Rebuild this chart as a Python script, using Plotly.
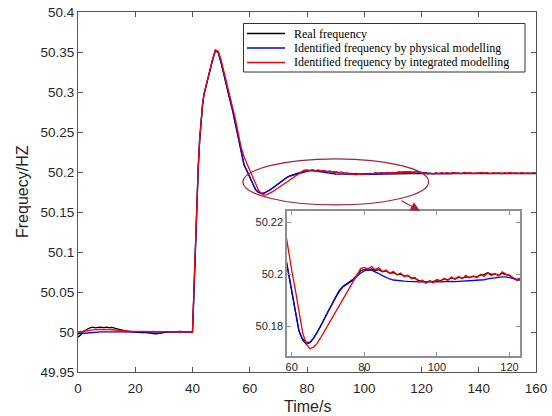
import plotly.graph_objects as go

# ---------------- data ----------------
TIME = [
    0, 1, 2, 3, 4, 5, 6, 7, 8, 9,
    10, 11, 12, 13, 14, 15, 16, 17, 18, 19,
    20, 21, 22, 23, 24, 25, 26, 27, 28, 29,
    30, 31, 32, 33, 34, 35, 36, 37, 38, 39,
    40, 40.5, 41, 41.5, 42, 42.5, 43, 43.5,
    44, 45, 46, 47, 48, 49, 50, 51, 52, 53,
    54, 55, 56, 57, 58, 59, 60, 61, 62, 63,
    64, 65, 66, 67, 68, 69, 70, 71, 72, 73,
    74, 75, 76, 77, 78, 79, 80, 81, 82, 83,
    84, 85, 86, 87, 88, 89, 90, 91, 92, 93,
    94, 95, 96, 97, 98, 99, 100, 101, 102, 103,
    104, 105, 106, 107, 108, 109, 110, 111, 112, 113,
    114, 115, 116, 117, 118, 119, 120, 121, 122, 123,
    124, 125, 126, 127, 128, 129, 130, 131, 132, 133,
    134, 135, 136, 137, 138, 139, 140, 141, 142, 143,
    144, 145, 146, 147, 148, 149, 150, 151, 152, 153,
    154, 155, 156, 157, 158, 159, 160,
]

REAL_FREQ = [
    49.9935, 49.9965, 50.0010, 50.0035, 50.0050, 50.0060, 50.0052, 50.0058, 50.0061, 50.0054,
    50.0060, 50.0055, 50.0058, 50.0045, 50.0035, 50.0028, 50.0022, 50.0012, 50.0005, 50.0002,
    49.9995, 50.0000, 49.9993, 49.9996, 49.9990, 49.9992, 49.9985, 49.9978, 49.9980, 49.9988,
    49.9995, 50.0000, 50.0002, 50.0005, 50.0001, 50.0003, 50.0006, 50.0002, 50.0001, 50.0000,
    50.0000, 50.0500, 50.1100, 50.1650, 50.2050, 50.2400, 50.2680, 50.2840,
    50.2970, 50.3120, 50.3250, 50.3400, 50.3520, 50.3490, 50.3360, 50.3200, 50.3050, 50.2910,
    50.2770, 50.2600, 50.2400, 50.2220, 50.2090, 50.2015, 50.1930, 50.1858, 50.1780, 50.1745,
    50.1730, 50.1735, 50.1752, 50.1775, 50.1800, 50.1828, 50.1856, 50.1882, 50.1908, 50.1935,
    50.1952, 50.1962, 50.1970, 50.1982, 50.1998, 50.2014, 50.2019, 50.2016, 50.2021, 50.2015,
    50.2018, 50.2010, 50.2013, 50.2004, 50.2007, 50.1999, 50.2001, 50.1993, 50.1995, 50.1986,
    50.1984, 50.1976, 50.1975, 50.1970, 50.1974, 50.1972, 50.1978, 50.1976, 50.1982, 50.1979,
    50.1986, 50.1983, 50.1988, 50.1985, 50.1990, 50.1988, 50.1992, 50.1990, 50.1997, 50.1999,
    50.2006, 50.2000, 50.2002, 50.1996, 50.2004, 50.1999, 50.1995, 50.1986, 50.1980, 50.1984,
    50.1979, 50.1984, 50.1981, 50.1987, 50.1983, 50.1986, 50.1982, 50.1988, 50.1984, 50.1987,
    50.1983, 50.1988, 50.1985, 50.1990, 50.1986, 50.1984, 50.1988, 50.1983, 50.1987, 50.1985,
    50.1989, 50.1984, 50.1987, 50.1982, 50.1986, 50.1984, 50.1988, 50.1983, 50.1986, 50.1982,
    50.1986, 50.1983, 50.1987, 50.1984, 50.1986, 50.1982, 50.1985,
]

PHYS_FREQ = [
    49.9978, 49.9982, 49.9987, 49.9991, 49.9995, 49.9998, 50.0000, 50.0001, 50.0002, 50.0002,
    50.0002, 50.0002, 50.0002, 50.0001, 50.0001, 50.0001, 50.0000, 50.0000, 50.0000, 50.0000,
    50.0000, 50.0000, 50.0000, 50.0000, 49.9999, 49.9999, 49.9999, 49.9999, 49.9999, 50.0000,
    50.0000, 50.0000, 50.0000, 50.0000, 50.0000, 50.0000, 50.0000, 50.0000, 50.0000, 50.0000,
    50.0000, 50.0480, 50.1080, 50.1630, 50.2040, 50.2390, 50.2670, 50.2835,
    50.2965, 50.3115, 50.3245, 50.3395, 50.3520, 50.3495, 50.3370, 50.3210, 50.3060, 50.2920,
    50.2775, 50.2600, 50.2400, 50.2220, 50.2090, 50.2015, 50.1930, 50.1858, 50.1782, 50.1750,
    50.1738, 50.1737, 50.1752, 50.1775, 50.1800, 50.1828, 50.1856, 50.1882, 50.1908, 50.1932,
    50.1950, 50.1960, 50.1968, 50.1978, 50.1992, 50.2005, 50.2013, 50.2017, 50.2016, 50.2011,
    50.2003, 50.1995, 50.1988, 50.1982, 50.1978, 50.1976, 50.1975, 50.1974, 50.1973, 50.1972,
    50.1971, 50.1970, 50.1971, 50.1970, 50.1971, 50.1972, 50.1972, 50.1971, 50.1972, 50.1972,
    50.1973, 50.1972, 50.1973, 50.1973, 50.1974, 50.1975, 50.1975, 50.1976, 50.1977, 50.1979,
    50.1982, 50.1984, 50.1987, 50.1989, 50.1990, 50.1990, 50.1988, 50.1984, 50.1978, 50.1977,
    50.1976, 50.1977, 50.1978, 50.1978, 50.1979, 50.1978, 50.1978, 50.1979, 50.1979, 50.1980,
    50.1979, 50.1980, 50.1980, 50.1979, 50.1980, 50.1981, 50.1980, 50.1980, 50.1981, 50.1980,
    50.1980, 50.1981, 50.1980, 50.1980, 50.1981, 50.1980, 50.1981, 50.1980, 50.1980, 50.1981,
    50.1980, 50.1981, 50.1980, 50.1980, 50.1981, 50.1980, 50.1980,
]

INTEG_FREQ = [
    50.0000, 50.0006, 50.0012, 50.0018, 50.0022, 50.0026, 50.0029, 50.0031, 50.0033, 50.0034,
    50.0033, 50.0031, 50.0028, 50.0024, 50.0020, 50.0017, 50.0014, 50.0012, 50.0010, 50.0009,
    50.0008, 50.0008, 50.0007, 50.0007, 50.0006, 50.0006, 50.0006, 50.0005, 50.0004, 50.0003,
    50.0002, 50.0001, 50.0000, 50.0000, 50.0000, 50.0000, 50.0000, 50.0000, 50.0000, 50.0000,
    50.0000, 50.0530, 50.1150, 50.1690, 50.2080, 50.2420, 50.2690, 50.2845,
    50.2975, 50.3125, 50.3260, 50.3410, 50.3525, 50.3510, 50.3400, 50.3250, 50.3110, 50.2970,
    50.2830, 50.2660, 50.2480, 50.2310, 50.2190, 50.2100, 50.2015, 50.1940, 50.1860, 50.1775,
    50.1730, 50.1712, 50.1718, 50.1733, 50.1755, 50.1779, 50.1803, 50.1826, 50.1851, 50.1876,
    50.1899, 50.1924, 50.1947, 50.1969, 50.1993, 50.2022, 50.2027, 50.2021, 50.2030, 50.2018,
    50.2026, 50.2011, 50.2017, 50.2004, 50.2012, 50.1998, 50.2005, 50.1991, 50.1997, 50.1983,
    50.1988, 50.1970, 50.1978, 50.1965, 50.1975, 50.1967, 50.1980, 50.1972, 50.1985, 50.1976,
    50.1990, 50.1980, 50.1992, 50.1983, 50.1996, 50.1986, 50.1994, 50.1987, 50.2000, 50.1992,
    50.2005, 50.1995, 50.2003, 50.1994, 50.2010, 50.2001, 50.1997, 50.1986, 50.1977, 50.1986,
    50.1978, 50.1990, 50.1981, 50.1993, 50.1982, 50.1991, 50.1980, 50.1994, 50.1983, 50.1990,
    50.1981, 50.1995, 50.1984, 50.1992, 50.1979, 50.1990, 50.1983, 50.1996, 50.1985, 50.1991,
    50.1980, 50.1993, 50.1984, 50.1990, 50.1978, 50.1992, 50.1985, 50.1995, 50.1982, 50.1990,
    50.1983, 50.1994, 50.1981, 50.1989, 50.1984, 50.1992, 50.1985,
]

SERIES_NAMES = [
    "Real frequency",
    "Identified frequency by physical modelling",
    "Identified frequency by integrated modelling",
]

X_TICKS = [0, 20, 40, 60, 80, 100, 120, 140, 160]
Y_TICKS = [49.95, 50.0, 50.05, 50.1, 50.15, 50.2, 50.25, 50.3, 50.35, 50.4]
Y_TICK_TEXT = ["49.95", "50", "50.05", "50.1", "50.15", "50.2", "50.25", "50.3", "50.35", "50.4"]
INSET_X_TICKS = [60, 80, 100, 120]
INSET_Y_TICKS = [50.18, 50.2, 50.22]
INSET_Y_TICK_TEXT = ["50.18", "50.2", "50.22"]

X_TITLE = "Time/s"
Y_TITLE = "Frequecy/HZ"

# ---------------- styling ----------------
COLORS = ["#000000", "#0000FF", "#FF0000"]
MARK_COLOR = "#A2223C"
SANS = "Liberation Sans, Arial, sans-serif"
SERIF = "Liberation Serif, Times New Roman, serif"
TICK_COLOR = "#262626"

PLOT_L, PLOT_T, PLOT_R, PLOT_B = 78, 12, 536, 372
PLOT_W, PLOT_H = PLOT_R - PLOT_L, PLOT_B - PLOT_T

def px_x(p):  # pixel x -> paper fraction
    return (p - PLOT_L) / PLOT_W

def px_y(p):  # pixel y -> paper fraction
    return (PLOT_B - p) / PLOT_H

fig = go.Figure()
series = [REAL_FREQ, PHYS_FREQ, INTEG_FREQ]
for name, vals, col in zip(SERIES_NAMES, series, COLORS):
    fig.add_trace(go.Scatter(x=TIME, y=vals, mode="lines", name=name, showlegend=False,
                             line=dict(color=col, width=1.3)))
for name, vals, col in zip(SERIES_NAMES, series, COLORS):
    fig.add_trace(go.Scatter(x=TIME, y=vals, mode="lines", name=name,
                             showlegend=False, xaxis="x2", yaxis="y2",
                             line=dict(color=col, width=1.3)))

main_axis = dict(showgrid=False, zeroline=False, showline=True, linecolor="#555555",
                 linewidth=1, mirror="ticks", ticks="inside", ticklen=5,
                 tickcolor="#555555",
                 tickfont=dict(family=SANS, size=13.5, color=TICK_COLOR))
inset_axis = dict(showgrid=False, zeroline=False, showline=True, linecolor="#8f8f8f",
                  linewidth=1.5, mirror="ticks", ticks="inside", ticklen=4,
                  tickcolor="#8f8f8f",
                  tickfont=dict(family=SANS, size=11, color=TICK_COLOR))

fig.update_layout(
    width=552, height=416,
    margin=dict(l=PLOT_L, r=552 - PLOT_R, t=PLOT_T, b=416 - PLOT_B, autoexpand=False),
    paper_bgcolor="white", plot_bgcolor="white",
    xaxis=dict(range=[0, 160], tickvals=X_TICKS, ticklabelstandoff=4, **main_axis),
    yaxis=dict(range=[49.95, 50.4], tickvals=Y_TICKS, ticktext=Y_TICK_TEXT, **main_axis),
    xaxis2=dict(domain=[px_x(287), px_x(520)], anchor="y2", range=[58.7, 122.9],
                tickvals=INSET_X_TICKS, **inset_axis),
    yaxis2=dict(domain=[px_y(356), px_y(211)], anchor="x2", range=[50.1684, 50.2245],
                tickvals=INSET_Y_TICKS, ticktext=INSET_Y_TICK_TEXT, **inset_axis),
    showlegend=False,
)

# legend box drawn as a framed panel with line samples and labels
fig.add_shape(type="rect", xref="paper", yref="paper",
              x0=px_x(243.5), x1=px_x(525), y0=px_y(72), y1=px_y(23.5),
              line=dict(color="#333333", width=1), fillcolor="white", layer="above")
LEG_ROWS = [33.5, 48, 62.5]
for name, col, ry in zip(SERIES_NAMES, COLORS, LEG_ROWS):
    fig.add_shape(type="line", xref="paper", yref="paper",
                  x0=px_x(247), x1=px_x(285), y0=px_y(ry), y1=px_y(ry),
                  line=dict(color=col, width=1.3), layer="above")
    fig.add_annotation(text=name, xref="paper", yref="paper", x=px_x(292), y=px_y(ry),
                       xanchor="left", yanchor="middle", showarrow=False,
                       font=dict(family=SERIF, size=12, color="#000000"))

fig.add_shape(type="circle", xref="x", yref="y", x0=57.6, x1=122.5,
              y0=50.1588, y1=50.2163, line=dict(color=MARK_COLOR, width=1.2))
fig.add_annotation(x=119.5, y=50.1512, ax=112.5, ay=50.1650, axref="x", ayref="y",
                   xref="x", yref="y", text="", showarrow=True, arrowhead=2,
                   arrowsize=1.6, arrowwidth=1.2, arrowcolor=MARK_COLOR)

fig.add_annotation(text=X_TITLE, xref="paper", yref="paper", x=0.5, y=px_y(406),
                   xanchor="center", yanchor="middle", showarrow=False,
                   font=dict(family=SANS, size=16, color=TICK_COLOR))
fig.add_annotation(text=Y_TITLE, xref="paper", yref="paper", x=px_x(22), y=0.5,
                   xanchor="center", yanchor="middle", showarrow=False, textangle=-90,
                   font=dict(family=SANS, size=16, color=TICK_COLOR))

fig.write_html("out.html", config={"displayModeBar": False},
               post_script="document.body.style.margin='0px';")
